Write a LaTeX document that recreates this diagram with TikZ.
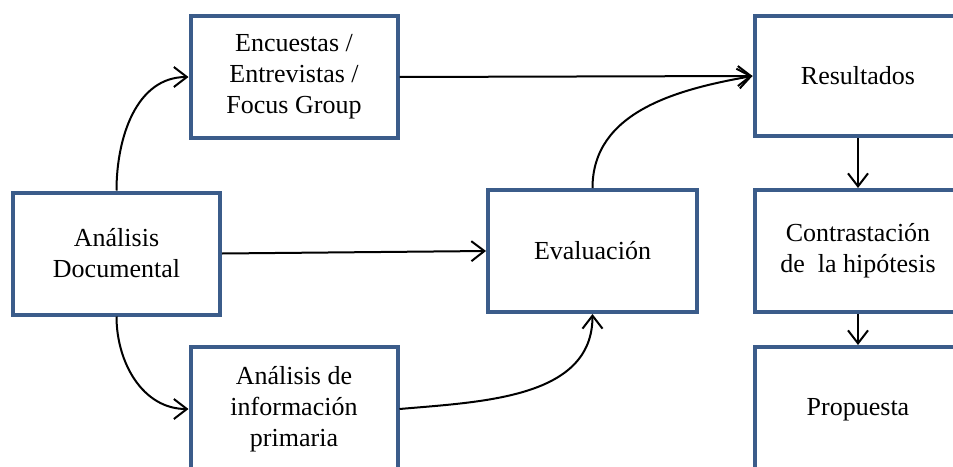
\documentclass[tikz,border=0pt]{standalone}
\usepackage{fontspec}
\setmainfont{Liberation Serif}
\usetikzlibrary{arrows.meta}
\definecolor{azul}{HTML}{3B5C8A}
\tikzset{
  caja/.style={draw=azul, line width=4pt, fill=white, align=center, inner sep=0pt,
    minimum width=207pt, minimum height=122pt, font=\fontsize{26}{31}\selectfont},
  flecha/.style={line width=2pt, -{Straight Barb[length=13pt,width=20pt]}}
}
\begin{document}
\begin{tikzpicture}[x=1pt, y=-1pt]

    \useasboundingbox (0,0) rectangle (953,466);
    \clip (0,0) rectangle (953,466);

    % Cajas
    \node[caja] (enc) at (294,77) {Encuestas /\\Entrevistas /\\Focus Group};
    \node[caja] (doc) at (116.5,253.5) {Análisis\\Documental};
    \node[caja, minimum height=124pt] (prim) at (294,409) {Análisis de\\información\\primaria};
    \node[caja, minimum width=209pt] (eval) at (592.5,251) {Evaluación};

    \node[caja, minimum height=120pt] (res) at (858,76) {Resultados};
    \node[caja] (contr) at (858,251) {Contrastación\\de\ \ la hipótesis};
    \node[caja, minimum height=126pt] (prop) at (858,410) {Propuesta};

    % Flechas
    \draw[flecha] (doc.north) to[out=90, in=180] (enc.west);
    \draw[flecha] (doc.east) -- (eval.west);
    \draw[flecha] (doc.south) to[out=-90, in=180] (prim.west);
    \draw[flecha] (enc.east) -- (res.west);
    \draw[flecha] (eval.north) to[out=90, in=190] (res.west);
    \draw[flecha] (prim.east) to[out=5, in=-90] (eval.south);
    \draw[flecha] (res.south) -- (contr.north);
    \draw[flecha] (contr.south) -- (prop.north);

\end{tikzpicture}
\end{document}
